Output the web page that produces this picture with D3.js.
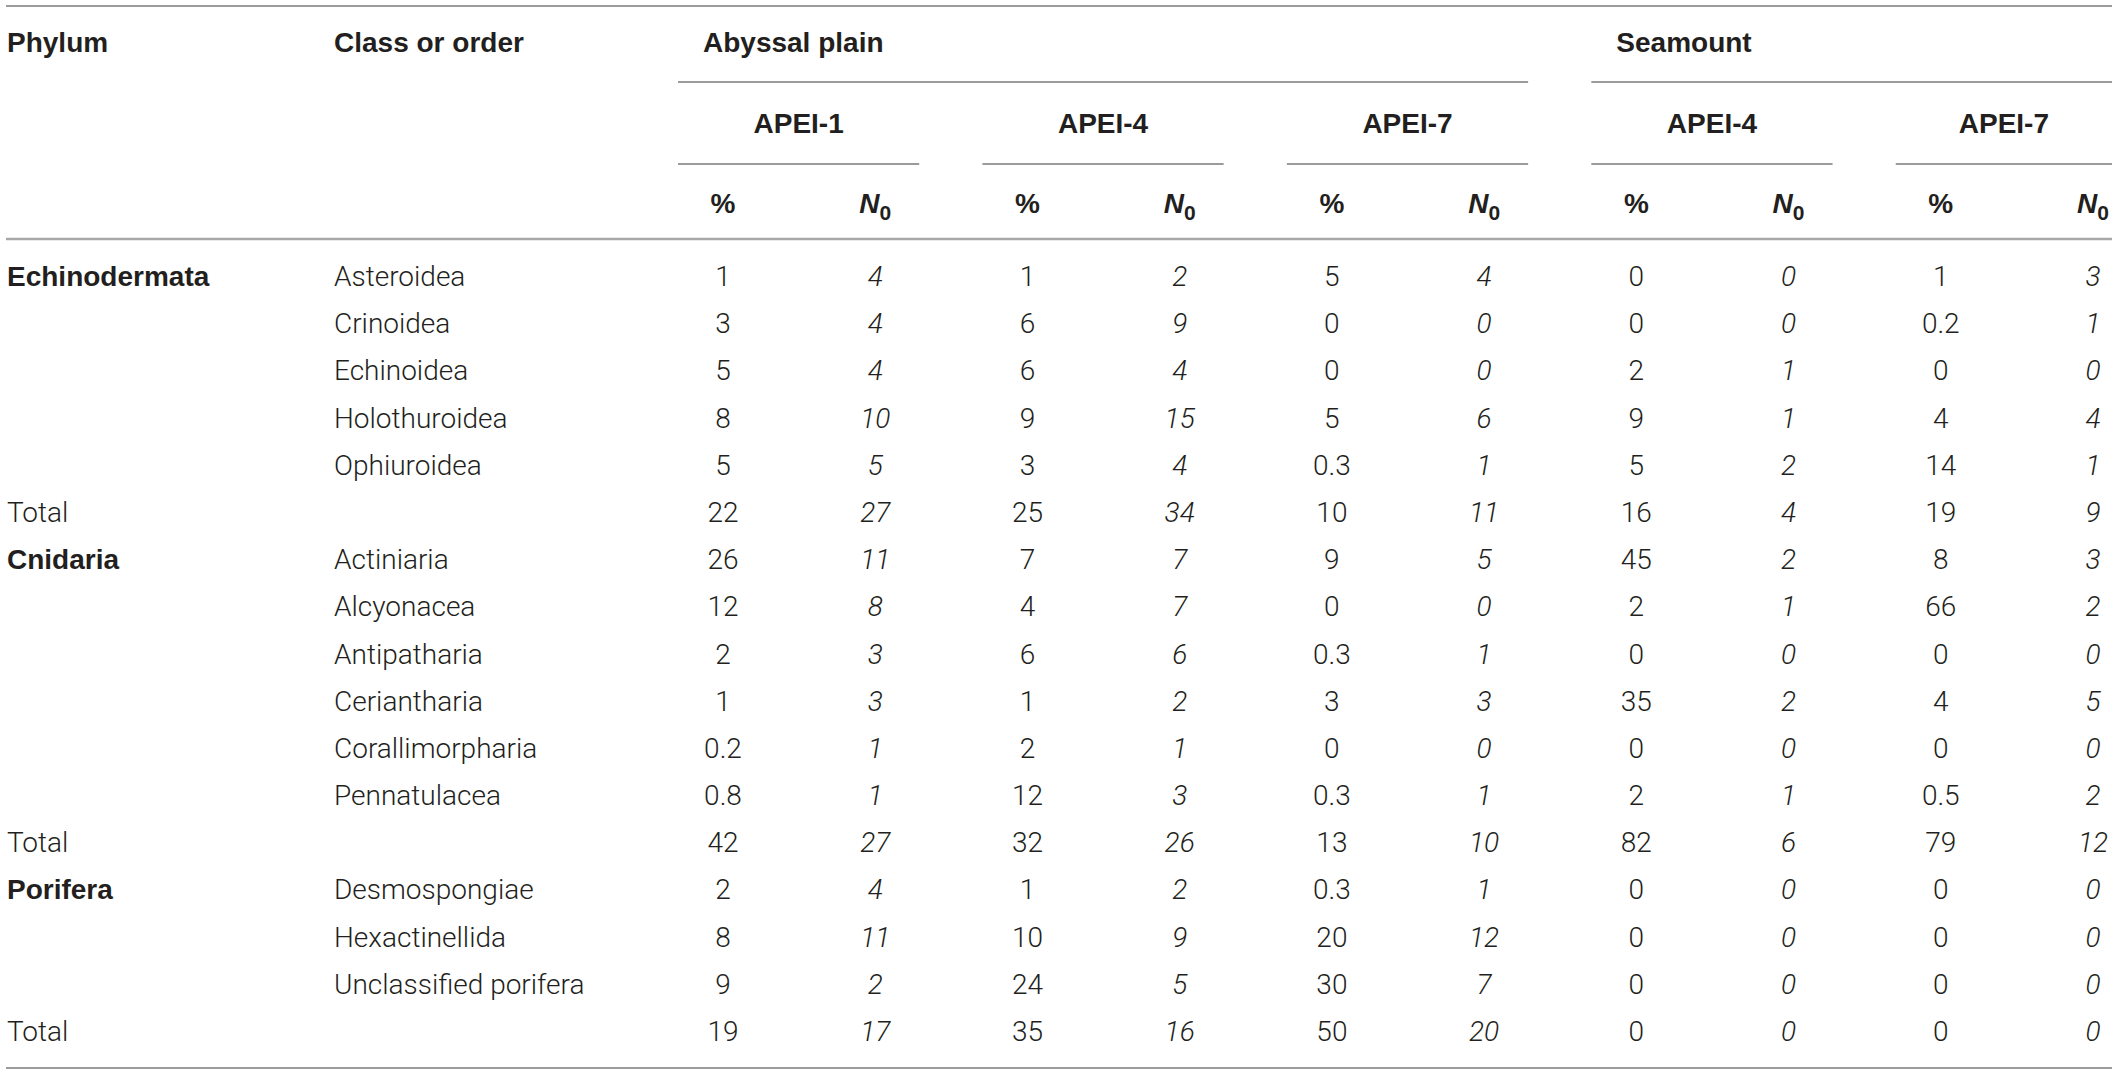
<!DOCTYPE html>
<html lang="en">
	<head>
		<meta charset="UTF-8" />
		<title>Megafauna composition table</title>
		<script src="https://d3js.org/d3.v7.min.js"></script>
		<style>
			body {
				margin: 0;
				background: #fff;
			}
			svg {
				display: block;
				font-family: "Roboto", "Liberation Sans", Arial, sans-serif;
				fill: #231f20;
			}
			.head {
				font-family: "Liberation Sans", Arial, sans-serif;
				font-weight: 700;
				font-size: 28px;
			}
			.cell {
				font-weight: 300;
				font-size: 28px;
			}
			.n0 {
				font-style: italic;
			}
			.rule {
				stroke: #7a7a7a;
				stroke-width: 1.5;
			}
			.rule.thick {
				stroke: #a8a8a8;
				stroke-width: 2.5;
			}
		</style>
	</head>
	<body>
		<svg></svg>
		<script>
			// Data
			const phylumCol = ["Echinodermata", "", "", "", "", "Total", "Cnidaria", "", "", "", "", "", "Total", "Porifera", "", "", "Total"];
			const classCol = ["Asteroidea", "Crinoidea", "Echinoidea", "Holothuroidea", "Ophiuroidea", "",
				"Actiniaria", "Alcyonacea", "Antipatharia", "Ceriantharia", "Corallimorpharia", "Pennatulacea", "",
				"Desmospongiae", "Hexactinellida", "Unclassified porifera", ""];

			const habitats = ["Abyssal plain", "Seamount"];
			const sites = ["APEI-1", "APEI-4", "APEI-7", "APEI-4", "APEI-7"];
			const siteHabitat = [0, 0, 0, 1, 1];

			const abyssalApei1Pct = ["1", "3", "5", "8", "5", "22", "26", "12", "2", "1", "0.2", "0.8", "42", "2", "8", "9", "19"];
			const abyssalApei1N0 = ["4", "4", "4", "10", "5", "27", "11", "8", "3", "3", "1", "1", "27", "4", "11", "2", "17"];
			const abyssalApei4Pct = ["1", "6", "6", "9", "3", "25", "7", "4", "6", "1", "2", "12", "32", "1", "10", "24", "35"];
			const abyssalApei4N0 = ["2", "9", "4", "15", "4", "34", "7", "7", "6", "2", "1", "3", "26", "2", "9", "5", "16"];
			const abyssalApei7Pct = ["5", "0", "0", "5", "0.3", "10", "9", "0", "0.3", "3", "0", "0.3", "13", "0.3", "20", "30", "50"];
			const abyssalApei7N0 = ["4", "0", "0", "6", "1", "11", "5", "0", "1", "3", "0", "1", "10", "1", "12", "7", "20"];
			const seamountApei4Pct = ["0", "0", "2", "9", "5", "16", "45", "2", "0", "35", "0", "2", "82", "0", "0", "0", "0"];
			const seamountApei4N0 = ["0", "0", "1", "1", "2", "4", "2", "1", "0", "2", "0", "1", "6", "0", "0", "0", "0"];
			const seamountApei7Pct = ["1", "0.2", "0", "4", "14", "19", "8", "66", "0", "4", "0", "0.5", "79", "0", "0", "0", "0"];
			const seamountApei7N0 = ["3", "1", "0", "4", "1", "9", "3", "2", "0", "5", "0", "2", "12", "0", "0", "0", "0"];

			const columns = [
				abyssalApei1Pct, abyssalApei1N0,
				abyssalApei4Pct, abyssalApei4N0,
				abyssalApei7Pct, abyssalApei7N0,
				seamountApei4Pct, seamountApei4N0,
				seamountApei7Pct, seamountApei7N0,
			];

			// Layout
			const W = 2118, H = 1074;
			const left = 6, right = 2112;

			const svg = d3.select("svg").attr("width", W).attr("height", H);

			// value columns, evenly spaced centres
			const xCol = d3.scalePoint().domain(d3.range(columns.length)).range([723, 2093]);
			// body rows (baselines)
			const yRow = d3.scalePoint().domain(d3.range(classCol.length)).range([286, 1041]);

			// site groups: span from the % column to the N0 column
			const groups = sites.map((s, i) => {
				const x0 = xCol(2 * i) - 45;
				const x1 = Math.min(xCol(2 * i + 1) + 44, right);
				return { site: s, habitat: siteHabitat[i], x0, x1 };
			});

			// rules
			const rules = [
				{ x0: left, x1: right, y: 6, cls: "rule" },
				{ x0: left, x1: right, y: 239, cls: "rule thick" },
				{ x0: left, x1: right, y: 1068, cls: "rule" },
			];
			habitats.forEach((h, k) => {
				const g = groups.filter((d) => d.habitat === k);
				rules.push({ x0: d3.min(g, (d) => d.x0), x1: d3.max(g, (d) => d.x1), y: 82, cls: "rule" });
			});
			groups.forEach((g) => rules.push({ x0: g.x0, x1: g.x1, y: 164, cls: "rule" }));

			svg
				.selectAll("line.rule")
				.data(rules)
				.enter()
				.append("line")
				.attr("class", (d) => d.cls)
				.attr("x1", (d) => d.x0)
				.attr("x2", (d) => d.x1)
				.attr("y1", (d) => d.y)
				.attr("y2", (d) => d.y);

			// header row 1
			svg.append("text").attr("class", "head").attr("x", 7).attr("y", 52).text("Phylum");
			svg.append("text").attr("class", "head").attr("x", 334).attr("y", 52).text("Class or order");
			svg
				.selectAll("text.habitat")
				.data(habitats)
				.enter()
				.append("text")
				.attr("class", "head habitat")
				.attr("x", (d, k) => d3.min(groups.filter((g) => g.habitat === k), (g) => g.x0) + 25)
				.attr("y", 52)
				.text((d) => d);

			// header row 2
			svg
				.selectAll("text.site")
				.data(groups)
				.enter()
				.append("text")
				.attr("class", "head site")
				.attr("text-anchor", "middle")
				.attr("x", (d) => (d.x0 + d.x1) / 2)
				.attr("y", 133)
				.text((d) => d.site);

			// header row 3: % and N0
			const sub = svg
				.selectAll("text.sub")
				.data(d3.range(columns.length))
				.enter()
				.append("text")
				.attr("class", "head sub")
				.attr("text-anchor", "middle")
				.attr("x", (d) => xCol(d))
				.attr("y", 213);
			sub.filter((d) => d % 2 === 0).text("%");
			const n0 = sub.filter((d) => d % 2 === 1);
			n0.append("tspan").style("font-style", "italic").text("N");
			n0.append("tspan").attr("dy", 7).style("font-size", "21px").text("0");

			// body: phylum and class columns
			svg
				.selectAll("text.phylum")
				.data(phylumCol)
				.enter()
				.append("text")
				.attr("class", (d) => (d === "Total" ? "cell phylum" : "head phylum"))
				.attr("x", 7)
				.attr("y", (d, i) => yRow(i))
				.text((d) => d);

			svg
				.selectAll("text.cls")
				.data(classCol)
				.enter()
				.append("text")
				.attr("class", "cell cls")
				.attr("x", 334)
				.attr("y", (d, i) => yRow(i))
				.text((d) => d);

			// body: values
			columns.forEach((col, c) => {
				svg
					.selectAll("text.v" + c)
					.data(col)
					.enter()
					.append("text")
					.attr("class", "cell v" + c + (c % 2 === 1 ? " n0" : ""))
					.attr("text-anchor", "middle")
					.attr("x", xCol(c))
					.attr("y", (d, i) => yRow(i))
					.text((d) => d);
			});
		</script>
	</body>
</html>
